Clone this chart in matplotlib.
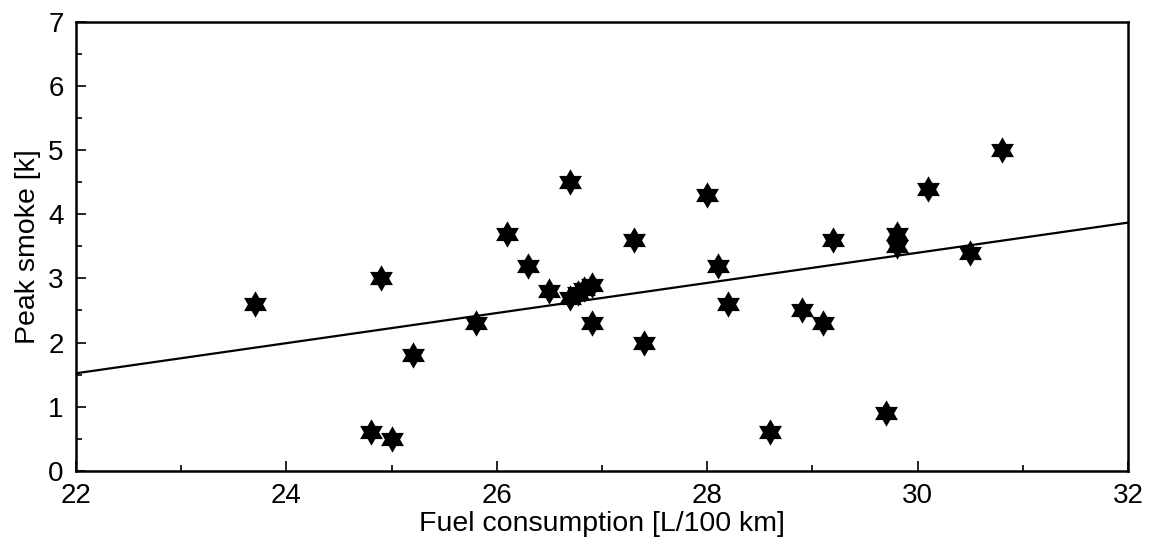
import numpy as np
import matplotlib
matplotlib.use("Agg")
import matplotlib.pyplot as plt
from matplotlib.ticker import MultipleLocator

plt.rcParams['font.family'] = ['Liberation Sans', 'DejaVu Sans']

# data
fuel = [23.7, 24.8, 24.9, 25.0, 25.2, 25.8, 26.1, 26.3, 26.5, 26.7,
        26.7, 26.77, 26.83, 26.9, 26.9, 27.3, 27.4, 28.0, 28.1, 28.2,
        28.6, 28.9, 29.1, 29.2, 29.7, 29.8, 29.8, 30.1, 30.5, 30.8]
smoke = [2.6, 0.6, 3.0, 0.5, 1.8, 2.3, 3.7, 3.2, 2.8, 4.5,
         2.7, 2.77, 2.84, 2.9, 2.3, 3.6, 2.0, 4.3, 3.2, 2.6,
         0.6, 2.5, 2.3, 3.6, 0.9, 3.7, 3.5, 4.4, 3.4, 5.0]

# regression line end points
fit_x = [22, 32]
fit_y = [1.52, 3.87]

# six-pointed star marker
ang_out = np.deg2rad(90 + 60 * np.arange(6))
ang_in = ang_out + np.deg2rad(30)
r_in = 1 / np.sqrt(3)
verts = []
for a_o, a_i in zip(ang_out, ang_in):
    verts.append((np.cos(a_o), np.sin(a_o)))
    verts.append((r_in * np.cos(a_i), r_in * np.sin(a_i)))
verts.append(verts[0])

fig = plt.figure(figsize=(11.54, 5.40), dpi=100)
ax = fig.add_axes([0.0659, 0.1283, 0.9116, 0.831])

ax.plot(fit_x, fit_y, color='black', lw=1.6, zorder=2)
ax.plot(fuel, smoke, linestyle='none', marker=verts, markersize=19,
        color='black', markeredgewidth=0, zorder=3)

ax.set_xlim(22, 32)
ax.set_ylim(0, 7)
ax.xaxis.set_major_locator(MultipleLocator(2))
ax.xaxis.set_minor_locator(MultipleLocator(1))
ax.yaxis.set_major_locator(MultipleLocator(1))
ax.yaxis.set_minor_locator(MultipleLocator(0.5))

ax.tick_params(which='both', direction='in', top=False, right=False,
               labelsize=20, width=1.2)
ax.tick_params(which='major', length=7, pad=9)
ax.tick_params(which='minor', length=4)
for s in ax.spines.values():
    s.set_linewidth(1.8)

ax.set_xlabel("Fuel consumption [L/100 km]", fontsize=20.5, labelpad=1)
ax.set_ylabel("Peak smoke [k]", fontsize=20.5, labelpad=5)

fig.savefig("out.png", dpi=100)
